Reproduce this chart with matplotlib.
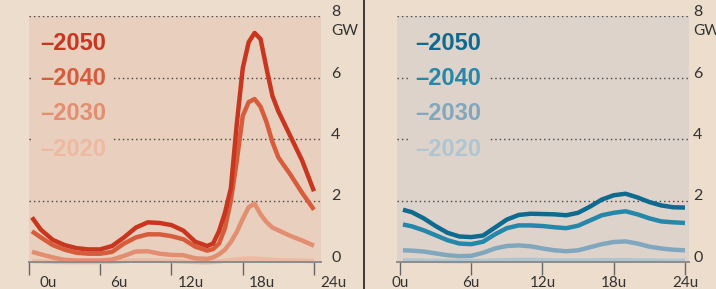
import matplotlib
matplotlib.use("Agg")
import matplotlib.pyplot as plt
import matplotlib.transforms as mtransforms
from matplotlib.lines import Line2D

# ---------------- data ----------------
years = ["2050", "2040", "2030", "2020"]

hours_left = [0.25, 1, 2, 3, 4, 5, 6, 7, 8, 9, 10, 11, 12, 13, 14, 15, 15.5,
              16, 16.5, 17, 17.5, 18, 18.5, 19, 19.5, 20, 20.5, 21, 22, 23, 24]
left_2050 = [1.45, 1.05, 0.72, 0.55, 0.45, 0.41, 0.41, 0.52, 0.80, 1.12, 1.29,
             1.27, 1.20, 1.02, 0.66, 0.52, 0.60, 1.00, 1.60, 2.40, 4.50, 6.30,
             7.15, 7.45, 7.25, 6.30, 5.40, 4.90, 4.10, 3.30, 2.30]
left_2040 = [1.00, 0.80, 0.55, 0.40, 0.30, 0.27, 0.27, 0.33, 0.60, 0.80, 0.90,
             0.90, 0.84, 0.74, 0.50, 0.37, 0.42, 0.60, 1.10, 2.00, 3.30, 4.75,
             5.20, 5.30, 5.05, 4.55, 3.90, 3.40, 2.85, 2.25, 1.70]
left_2030 = [0.33, 0.25, 0.15, 0.07, 0.05, 0.05, 0.05, 0.08, 0.20, 0.34, 0.35,
             0.27, 0.23, 0.22, 0.12, 0.10, 0.15, 0.25, 0.40, 0.65, 0.98, 1.40,
             1.78, 1.90, 1.55, 1.30, 1.12, 1.03, 0.85, 0.70, 0.53]
left_2020 = [0.03, 0.02, 0.01, 0.00, 0.00, 0.00, 0.00, 0.01, 0.03, 0.05, 0.05,
             0.04, 0.03, 0.02, 0.00, -0.01, 0.00, 0.02, 0.04, 0.06, 0.08, 0.10,
             0.11, 0.11, 0.10, 0.08, 0.07, 0.06, 0.05, 0.04, 0.03]

hours_right = [0.25, 1, 2, 3, 4, 5, 6, 7, 8, 9, 10, 11, 12, 13, 14, 15, 16, 17,
               18, 19, 20, 21, 22, 23, 24]
right_2050 = [1.70, 1.62, 1.42, 1.17, 0.95, 0.83, 0.81, 0.86, 1.12, 1.38, 1.53,
              1.57, 1.56, 1.55, 1.52, 1.60, 1.80, 2.03, 2.17, 2.22, 2.10, 1.95,
              1.84, 1.78, 1.77]
right_2040 = [1.22, 1.16, 1.03, 0.87, 0.71, 0.60, 0.58, 0.66, 0.90, 1.10, 1.19,
              1.19, 1.17, 1.13, 1.10, 1.18, 1.35, 1.52, 1.60, 1.65, 1.55, 1.42,
              1.32, 1.29, 1.27]
right_2030 = [0.38, 0.37, 0.34, 0.28, 0.22, 0.19, 0.20, 0.30, 0.44, 0.52, 0.54,
              0.51, 0.44, 0.38, 0.35, 0.38, 0.48, 0.58, 0.65, 0.67, 0.60, 0.50,
              0.44, 0.40, 0.38]
right_2020 = [0.05, 0.05, 0.04, 0.04, 0.03, 0.03, 0.03, 0.04, 0.05, 0.06, 0.07,
              0.07, 0.06, 0.05, 0.05, 0.05, 0.05, 0.06, 0.06, 0.06, 0.05, 0.05,
              0.04, 0.04, 0.04]

xticks = [0, 6, 12, 18, 24]
xticklabels = ["0u", "6u", "12u", "18u", "24u"]
yticks = [0, 2, 4, 6, 8]
unit = "GW"

# ---------------- style ----------------
W, H = 716, 289
fig_bg = "#EDDDCC"
red_cols = ["#C8361F", "#D65C3B", "#E38E70", "#EDB9A0"]
blue_cols = ["#0F6A8F", "#2587AA", "#80A7BD", "#B0C5D2"]
shade_left = "#E9CFBE"
shade_right = "#DDD3CB"
text_col = "#333333"
tick_font = ["Lato", "DejaVu Sans"]
legend_font = ["Liberation Sans", "Roboto", "DejaVu Sans"]

fig = plt.figure(figsize=(W / 100, H / 100), dpi=100, facecolor=fig_bg)


def px_axes(x0, x1, y_top, y_bot):
    return fig.add_axes([x0 / W, 1 - y_bot / H, (x1 - x0) / W, (y_bot - y_top) / H])


panels = [
    dict(rect=(29, 321, 16, 262), xlim=(0, 24.59), hours=hours_left,
         series=[left_2050, left_2040, left_2030, left_2020], cols=red_cols,
         shade=shade_left, label_dx=19, ypad=10, leg_x=0.95),
    dict(rect=(397, 689, 16, 262), xlim=(-0.25, 24.34), hours=hours_right,
         series=[right_2050, right_2040, right_2030, right_2020], cols=blue_cols,
         shade=shade_right, label_dx=0, ypad=4, leg_x=1.3),
]

legend_y = [7.12, 5.96, 4.82, 3.66]

for p in panels:
    ax = px_axes(*p["rect"])
    ax.set_facecolor(p["shade"])
    ax.set_xlim(*p["xlim"])
    ax.set_ylim(0, 8)
    for s in ["top", "right", "left"]:
        ax.spines[s].set_visible(False)
    ax.spines["bottom"].set_color("#8C8C8C")
    ax.spines["bottom"].set_linewidth(1.4)
    ax.spines["bottom"].set_zorder(6)

    for yv in yticks[1:]:
        ax.axhline(yv, color="#444444", lw=1.0, ls=(0, (1, 2.2)), zorder=1)

    for vals, col in reversed(list(zip(p["series"], p["cols"]))):
        ax.plot(p["hours"], vals, color=col, lw=3.2, solid_capstyle="butt",
                solid_joinstyle="round", zorder=3, clip_on=False)

    ax.set_xticks(xticks)
    ax.set_xticklabels(xticklabels, family=tick_font, fontsize=11, color=text_col)
    ax.tick_params(axis="x", length=9, width=1.0, color="#666666", pad=1,
                   direction="out")
    off = mtransforms.ScaledTranslation(p["label_dx"] / 100, 0, fig.dpi_scale_trans)
    for lab in ax.get_xticklabels():
        lab.set_transform(lab.get_transform() + off)

    ax.set_yticks([])
    ytr = mtransforms.blended_transform_factory(ax.transAxes, ax.transData)
    pad = p["ypad"] / (p["rect"][1] - p["rect"][0])
    for yv in yticks:
        ax.text(1 + pad, yv, str(yv), transform=ytr, ha="left", va="baseline",
                fontsize=11.5, color=text_col, family=tick_font, clip_on=False)
    ax.text(1 + pad, 8 - 0.62, unit, transform=ytr, ha="left", va="baseline",
            fontsize=11, color=text_col, family=tick_font, clip_on=False)

    for yr, col, yl in zip(years, p["cols"], legend_y):
        ax.text(p["leg_x"], yl, "\u2013" + yr, color=col,
                family=legend_font, fontweight="bold", fontsize=17,
                ha="left", va="center", zorder=4,
                bbox=dict(boxstyle="square,pad=0.3", fc=p["shade"], ec="none"))

fig.add_artist(Line2D([364 / W, 364 / W], [0, 1], color="#3A3A3A", lw=1.4,
                      transform=fig.transFigure))

fig.savefig("out.png", dpi=100, facecolor=fig_bg)
